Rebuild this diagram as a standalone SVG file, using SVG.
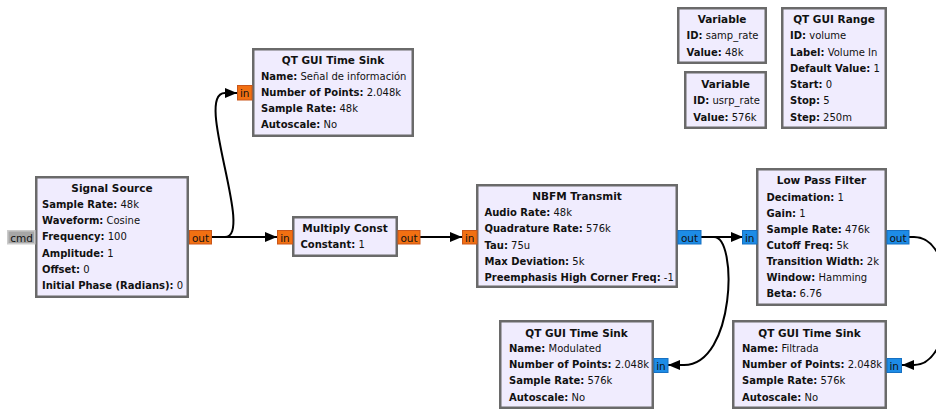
<svg xmlns="http://www.w3.org/2000/svg" width="936" height="410" viewBox="0 0 936 410">
  <style>
    text { font-family: "DejaVu Sans", "Liberation Sans", sans-serif; fill: #111; }
    .box { fill: #f0ecfe; stroke: #6a6a6a; stroke-width: 2.5; }
    .title { font-size: 10.5px; font-weight: bold; text-anchor: middle; }
    .p { font-size: 10px; font-weight: normal; }
    .k { font-weight: bold; }
    .port-f { fill: #f27012; stroke: #c9561a; stroke-width: 1; }
    .port-c { fill: #1d8ce6; stroke: #1670c2; stroke-width: 1; }
    .port-m { fill: #a6a6a6; stroke: #cbcbcb; stroke-width: 1.5; }
    .pl { font-size: 10.5px; text-anchor: middle; fill: #111; }
    .wire { fill: none; stroke: #000; stroke-width: 2; }
  </style>
  <defs>
    <marker id="arrow" viewBox="0 0 12 10" refX="12" refY="5" markerWidth="12" markerHeight="10" orient="auto" markerUnits="userSpaceOnUse">
      <path d="M0,0 L12,5 L0,10 z" fill="#000"/>
    </marker>
  </defs>

  <!-- connectors -->
  <g id="connectors">
    <path class="wire" d="M212,237 H277" marker-end="url(#arrow)"/>
    <path class="wire" d="M212,237 H225 C255,237 193,93 225,93 H237" marker-end="url(#arrow)"/>
    <path class="wire" d="M420,237 H462" marker-end="url(#arrow)"/>
    <path class="wire" d="M701,237 H743" marker-end="url(#arrow)"/>
    <path class="wire" d="M701,237 H714 C738,237 735,365 684,365 H668" marker-end="url(#arrow)"/>
    <path class="wire" d="M909,237 H914 C960,237 958,365 914,365 H902" marker-end="url(#arrow)"/>
  </g>

  <!-- Signal Source -->
  <g id="signal_source">
    <rect class="box" x="36.25" y="177.25" width="151.5" height="119.5"/>
    <text class="title" x="112" y="192.3">Signal Source</text>
    <text class="p" x="42" y="207.7"><tspan class="k">Sample Rate:</tspan> 48k</text>
    <text class="p" x="42" y="224"><tspan class="k">Waveform:</tspan> Cosine</text>
    <text class="p" x="42" y="240.2"><tspan class="k">Frequency:</tspan> 100</text>
    <text class="p" x="42" y="256.5"><tspan class="k">Amplitude:</tspan> 1</text>
    <text class="p" x="42" y="272.7"><tspan class="k">Offset:</tspan> 0</text>
    <text class="p" x="42" y="289"><tspan class="k">Initial Phase (Radians):</tspan> 0</text>
    <rect class="port-m" x="7.75" y="230.75" width="27" height="13"/>
    <text class="pl" x="21.5" y="241.5">cmd</text>
    <rect class="port-f" x="189.5" y="230.5" width="22" height="13.5"/>
    <text class="pl" x="200.5" y="241.5">out</text>
  </g>

  <!-- QT GUI Time Sink (information signal) -->
  <g id="time_sink_info">
    <rect class="box" x="253.25" y="49.25" width="159.5" height="86.5"/>
    <text class="title" x="333" y="64">QT GUI Time Sink</text>
    <text class="p" x="261" y="79.5"><tspan class="k">Name:</tspan> Señal de información</text>
    <text class="p" x="261" y="95.5"><tspan class="k">Number of Points:</tspan> 2.048k</text>
    <text class="p" x="261" y="111.7"><tspan class="k">Sample Rate:</tspan> 48k</text>
    <text class="p" x="261" y="127.5"><tspan class="k">Autoscale:</tspan> No</text>
    <rect class="port-f" x="237.5" y="85.5" width="14.5" height="14.5"/>
    <text class="pl" x="244.7" y="96.5">in</text>
  </g>

  <!-- Multiply Const -->
  <g id="multiply_const">
    <rect class="box" x="293.25" y="217.25" width="103.5" height="38.5"/>
    <text class="title" x="345" y="232.3">Multiply Const</text>
    <text class="p" x="300.5" y="248"><tspan class="k">Constant:</tspan> 1</text>
    <rect class="port-f" x="277.5" y="230.5" width="15" height="13.5"/>
    <text class="pl" x="285" y="241.5">in</text>
    <rect class="port-f" x="398" y="230.5" width="22" height="13.5"/>
    <text class="pl" x="409" y="241.5">out</text>
  </g>

  <!-- NBFM Transmit -->
  <g id="nbfm_tx">
    <rect class="box" x="477.25" y="185.25" width="199.5" height="101.5"/>
    <text class="title" x="577" y="200">NBFM Transmit</text>
    <text class="p" x="484.5" y="216"><tspan class="k">Audio Rate:</tspan> 48k</text>
    <text class="p" x="484.5" y="232.3"><tspan class="k">Quadrature Rate:</tspan> 576k</text>
    <text class="p" x="484.5" y="248.5"><tspan class="k">Tau:</tspan> 75u</text>
    <text class="p" x="484.5" y="264.7"><tspan class="k">Max Deviation:</tspan> 5k</text>
    <text class="p" x="484.5" y="280.8"><tspan class="k">Preemphasis High Corner Freq:</tspan> -1</text>
    <rect class="port-f" x="462.5" y="230.5" width="14.5" height="13.5"/>
    <text class="pl" x="469.7" y="241.5">in</text>
    <rect class="port-c" x="678" y="230.5" width="23" height="13.5"/>
    <text class="pl" x="689.5" y="241.5">out</text>
  </g>

  <!-- Low Pass Filter -->
  <g id="low_pass_filter">
    <rect class="box" x="757.25" y="169.25" width="128.5" height="135.5"/>
    <text class="title" x="821.5" y="184.3">Low Pass Filter</text>
    <text class="p" x="766.5" y="200.7"><tspan class="k">Decimation:</tspan> 1</text>
    <text class="p" x="766.5" y="216.8"><tspan class="k">Gain:</tspan> 1</text>
    <text class="p" x="766.5" y="233"><tspan class="k">Sample Rate:</tspan> 476k</text>
    <text class="p" x="766.5" y="249"><tspan class="k">Cutoff Freq:</tspan> 5k</text>
    <text class="p" x="766.5" y="265"><tspan class="k">Transition Width:</tspan> 2k</text>
    <text class="p" x="766.5" y="281"><tspan class="k">Window:</tspan> Hamming</text>
    <text class="p" x="766.5" y="296.8"><tspan class="k">Beta:</tspan> 6.76</text>
    <rect class="port-c" x="742.5" y="230.5" width="14.5" height="13.5"/>
    <text class="pl" x="749.7" y="241.5">in</text>
    <rect class="port-c" x="887" y="230.5" width="22" height="13.5"/>
    <text class="pl" x="898" y="241.5">out</text>
  </g>

  <!-- QT GUI Time Sink (modulated) -->
  <g id="time_sink_mod">
    <rect class="box" x="500.25" y="321.25" width="152.5" height="86.5"/>
    <text class="title" x="576.5" y="336.7">QT GUI Time Sink</text>
    <text class="p" x="509" y="351.7"><tspan class="k">Name:</tspan> Modulated</text>
    <text class="p" x="509" y="368"><tspan class="k">Number of Points:</tspan> 2.048k</text>
    <text class="p" x="509" y="384.2"><tspan class="k">Sample Rate:</tspan> 576k</text>
    <text class="p" x="509" y="400.5"><tspan class="k">Autoscale:</tspan> No</text>
    <rect class="port-c" x="654" y="358.5" width="14" height="14"/>
    <text class="pl" x="661" y="369.5">in</text>
  </g>

  <!-- QT GUI Time Sink (filtered) -->
  <g id="time_sink_filt">
    <rect class="box" x="733.25" y="321.25" width="152.5" height="86.5"/>
    <text class="title" x="809.5" y="336.7">QT GUI Time Sink</text>
    <text class="p" x="742" y="351.7"><tspan class="k">Name:</tspan> Filtrada</text>
    <text class="p" x="742" y="368"><tspan class="k">Number of Points:</tspan> 2.048k</text>
    <text class="p" x="742" y="384.2"><tspan class="k">Sample Rate:</tspan> 576k</text>
    <text class="p" x="742" y="400.5"><tspan class="k">Autoscale:</tspan> No</text>
    <rect class="port-c" x="887" y="358.5" width="14.5" height="14"/>
    <text class="pl" x="894.2" y="369.5">in</text>
  </g>

  <!-- Variable samp_rate -->
  <g id="var_samp_rate">
    <rect class="box" x="678.25" y="8.25" width="87.5" height="54.5"/>
    <text class="title" x="722" y="23.3">Variable</text>
    <text class="p" x="686.5" y="39.3"><tspan class="k">ID:</tspan> samp_rate</text>
    <text class="p" x="686.5" y="55.7"><tspan class="k">Value:</tspan> 48k</text>
  </g>

  <!-- Variable usrp_rate -->
  <g id="var_usrp_rate">
    <rect class="box" x="685.25" y="72.25" width="80.5" height="55.5"/>
    <text class="title" x="725.5" y="88.3">Variable</text>
    <text class="p" x="693.3" y="104"><tspan class="k">ID:</tspan> usrp_rate</text>
    <text class="p" x="693.3" y="120.7"><tspan class="k">Value:</tspan> 576k</text>
  </g>

  <!-- QT GUI Range volume -->
  <g id="range_volume">
    <rect class="box" x="782.25" y="8.25" width="103.5" height="119.5"/>
    <text class="title" x="834" y="23.3">QT GUI Range</text>
    <text class="p" x="790" y="39.3"><tspan class="k">ID:</tspan> volume</text>
    <text class="p" x="790" y="55.7"><tspan class="k">Label:</tspan> Volume In</text>
    <text class="p" x="790" y="72"><tspan class="k">Default Value:</tspan> 1</text>
    <text class="p" x="790" y="88"><tspan class="k">Start:</tspan> 0</text>
    <text class="p" x="790" y="104.3"><tspan class="k">Stop:</tspan> 5</text>
    <text class="p" x="790" y="120.7"><tspan class="k">Step:</tspan> 250m</text>
  </g>
</svg>
